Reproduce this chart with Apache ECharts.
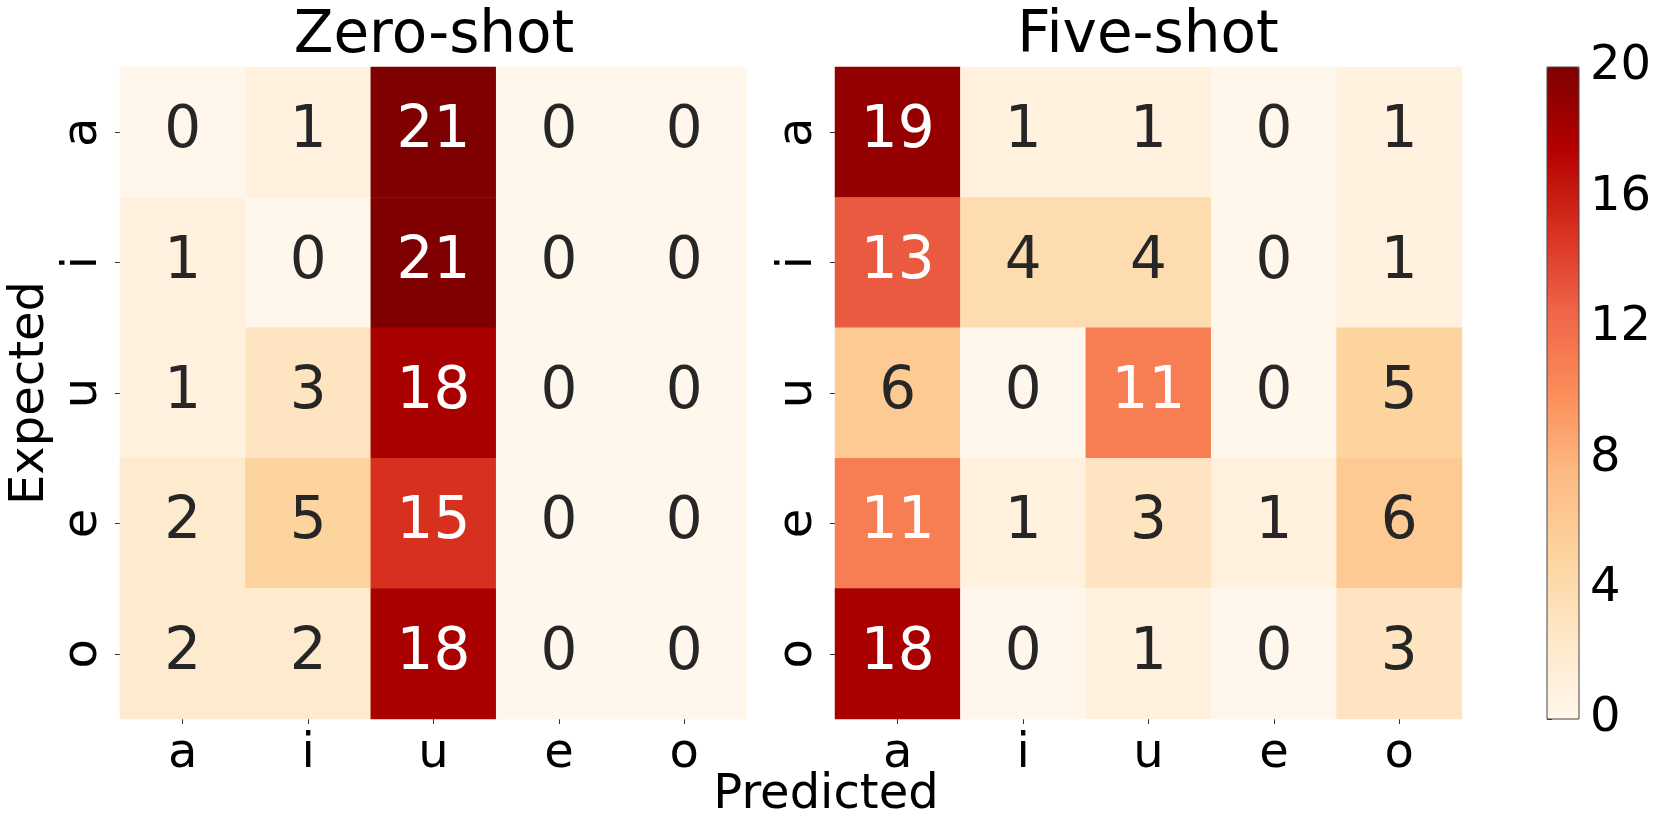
<!DOCTYPE html>
<html>
<head>
<meta charset="utf-8">
<script src="https://cdn.jsdelivr.net/npm/echarts@6/dist/echarts.min.js"></script>
<style>
  html, body { margin: 0; padding: 0; background: #fff; }
  #chart { width: 1661px; height: 830px; }
</style>
</head>
<body>
<div id="chart"></div>
<script>
// vowel categories (rows = expected, columns = predicted)
var vowels = ['a', 'i', 'u', 'e', 'o'];
var zeroShot = [
    [0, 1, 21, 0, 0],
    [1, 0, 21, 0, 0],
    [1, 3, 18, 0, 0],
    [2, 5, 15, 0, 0],
    [2, 2, 18, 0, 0]
];
var fiveShot = [
    [19, 1, 1, 0, 1],
    [13, 4, 4, 0, 1],
    [6, 0, 11, 0, 5],
    [11, 1, 3, 1, 6],
    [18, 0, 1, 0, 3]
];
var barMin = 0;
var barMax = 20;
var barStep = 4;
// OrRd
var orRd = ['#fff7ec', '#fee8c8', '#fdd49e', '#fdbb84', '#fc8d59', '#ef6548', '#d7301f', '#b30000', '#7f0000'];

var FONT = 'DejaVu Sans';

function cells(matrix) {
    var out = [];
    matrix.forEach(function (row, r) {
        row.forEach(function (v, c) {
            out.push({
                value: [c, r, v],
                label: { color: v >= 10 ? '#ffffff' : '#262626' }
            });
        });
    });
    return out;
}

function xAx(idx) {
    return {
        type: 'category', gridIndex: idx, data: vowels, position: 'bottom',
        axisLine: { show: false },
        axisTick: { show: true, alignWithLabel: true, length: 5, lineStyle: { color: '#333' } },
        axisLabel: { fontFamily: FONT, fontSize: 48, color: '#000', margin: 12 },
        splitLine: { show: false }
    };
}

function yAx(idx, name) {
    return {
        type: 'category', gridIndex: idx, data: vowels, inverse: true,
        name: name, nameLocation: 'middle', nameRotate: 90, nameGap: 65,
        nameTextStyle: { fontFamily: FONT, fontSize: 48, color: '#000' },
        axisLine: { show: false },
        axisTick: { show: true, alignWithLabel: true, length: 5, lineStyle: { color: '#333' } },
        axisLabel: { fontFamily: FONT, fontSize: 48, color: '#000', rotate: 90, margin: 12 },
        splitLine: { show: false }
    };
}

var chart = echarts.init(document.getElementById('chart'));
var option = {
    backgroundColor: '#fff',
    animation: false,
    title: [
        { text: 'Zero-shot', left: 434, top: 8, textAlign: 'center', padding: 0,
          textStyle: { fontFamily: FONT, fontSize: 58, fontWeight: 'normal', color: '#000' } },
        { text: 'Five-shot', left: 1148, top: 8, textAlign: 'center', padding: 0,
          textStyle: { fontFamily: FONT, fontSize: 58, fontWeight: 'normal', color: '#000' } },
        { text: 'Predicted', left: 826, top: 772, textAlign: 'center', padding: 0,
          textStyle: { fontFamily: FONT, fontSize: 48, fontWeight: 'normal', color: '#000' } }
    ],
    grid: [
        { left: 120, top: 67, width: 627, height: 652 },
        { left: 835, top: 67, width: 627, height: 652 },
        { left: 1547, top: 67, width: 32, height: 652, show: true, z: 10,
          backgroundColor: 'transparent', borderColor: '#444', borderWidth: 1 }
    ],
    xAxis: [
        xAx(0),
        xAx(1),
        { type: 'value', gridIndex: 2, show: false, min: 0, max: 1 }
    ],
    yAxis: [
        yAx(0, 'Expected'),
        yAx(1, ''),
        { type: 'value', gridIndex: 2, position: 'right', min: barMin, max: barMax, interval: barStep,
          axisLine: { show: false },
          axisTick: { show: true, length: 5, lineStyle: { color: '#333' } },
          axisLabel: { fontFamily: FONT, fontSize: 48, color: '#000', margin: 11 },
          splitLine: { show: false } }
    ],
    visualMap: {
        type: 'continuous',
        min: barMin, max: barMax,
        seriesIndex: [0, 1],
        calculable: false,
        orient: 'vertical',
        left: 1547, top: 67,
        itemWidth: 32, itemHeight: 652,
        padding: 0,
        text: null,
        hoverLink: false,
        inRange: { color: orRd }
    },
    series: [
        {
            type: 'heatmap', xAxisIndex: 0, yAxisIndex: 0,
            data: cells(zeroShot),
            label: { show: true, fontFamily: FONT, fontSize: 58 },
            emphasis: { disabled: true }
        },
        {
            type: 'heatmap', xAxisIndex: 1, yAxisIndex: 1,
            data: cells(fiveShot),
            label: { show: true, fontFamily: FONT, fontSize: 58 },
            emphasis: { disabled: true }
        }
    ]
};
chart.setOption(option);
</script>
</body>
</html>
